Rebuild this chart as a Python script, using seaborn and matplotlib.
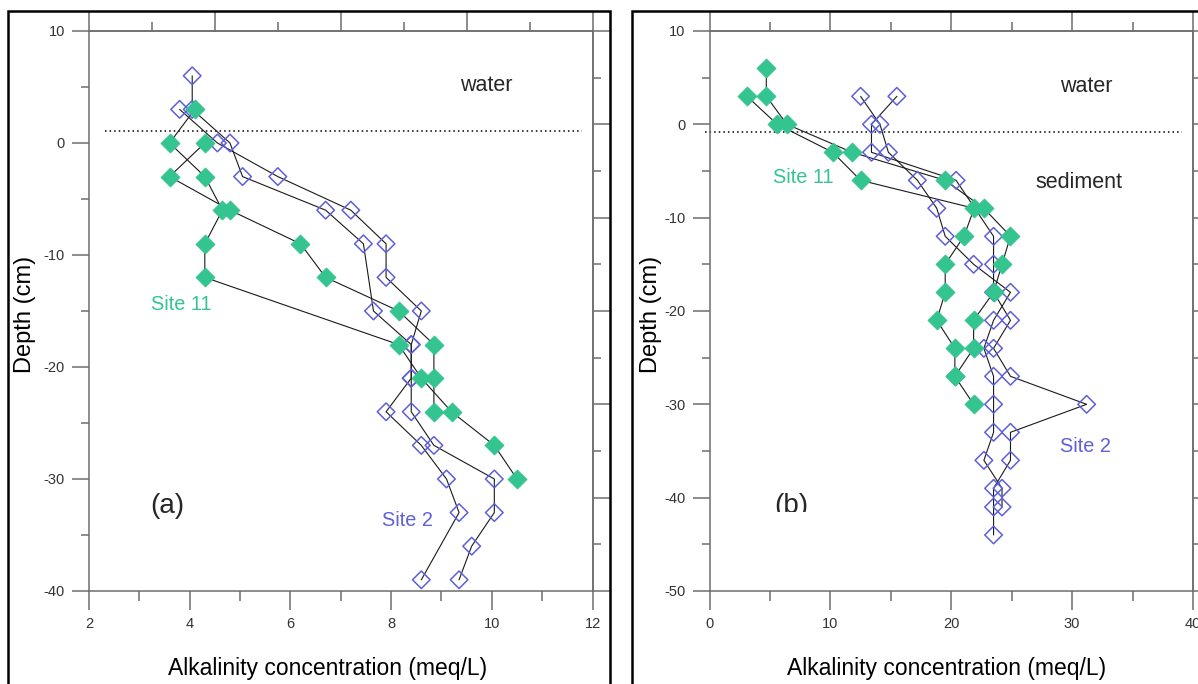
import matplotlib
matplotlib.use('Agg')
import matplotlib.pyplot as plt
import seaborn as sns
import numpy as np
from matplotlib.ticker import FixedLocator, NullFormatter
from matplotlib.patches import Rectangle
from matplotlib.transforms import Bbox

sns.set_style('ticks')
plt.rcParams['font.family'] = ['Liberation Sans', 'DejaVu Sans']
plt.rcParams['axes.unicode_minus'] = False

GREEN = '#33c48f'
BLUE = '#5f5fd8'
AXISGREY = '#6e6e6e'

# panel (a): Site 11 profiles (filled) and Site 2 profiles (open)
aSite11DepthA = [3, 0, -3, -6, -9, -12, -18, -21, -24, -27, -30]
aSite11AlkA = [4.1, 3.6, 4.3, 4.65, 4.3, 4.3, 8.15, 8.6, 9.2, 10.05, 10.5]
aSite11DepthB = [0, -3, -6, -9, -12, -15, -18, -21, -24]
aSite11AlkB = [4.3, 3.6, 4.8, 6.2, 6.7, 8.15, 8.85, 8.85, 8.85]

aSite2DepthA = [6, 3, 0, -3, -6, -9, -15, -18, -21, -24, -27, -30, -33, -39]
aSite2AlkA = [4.05, 4.05, 4.8, 5.05, 6.7, 7.45, 7.65, 8.4, 8.4, 7.9, 8.6, 9.1, 9.35, 8.6]
aSite2DepthB = [3, 0, -3, -6, -9, -12, -15, -18, -21, -24, -27, -30, -33, -36, -39]
aSite2AlkB = [3.8, 4.55, 5.75, 7.2, 7.9, 7.9, 8.6, 8.4, 8.4, 8.4, 8.85, 10.05, 10.05, 9.6, 9.35]

# panel (b)
bSite11DepthA = [6, 3, 0, -3, -6, -9, -12, -15, -18, -21, -24, -27]
bSite11AlkA = [4.7, 4.7, 6.4, 11.8, 19.5, 22.7, 24.9, 24.2, 23.5, 21.85, 21.85, 20.3]
bSite11DepthB = [3, 0, -3, -6, -9, -12, -15, -18, -21, -24, -27, -30]
bSite11AlkB = [3.1, 5.6, 10.2, 12.5, 21.9, 21.05, 19.5, 19.5, 18.8, 20.3, 20.3, 21.85]

bSite2DepthA = [3, 0, -3, -6, -12, -15, -18, -21, -24, -27, -30, -33, -36, -39, -41, -44]
bSite2AlkA = [15.5, 13.4, 13.4, 20.4, 23.5, 23.5, 23.5, 24.9, 23.5, 24.9, 31.2, 24.9, 24.9, 23.5, 23.5, 23.5]
bSite2DepthB = [3, 0, -3, -6, -9, -12, -15, -18, -21, -24, -27, -30, -33, -36, -39, -41]
bSite2AlkB = [12.5, 14.1, 14.8, 17.2, 18.8, 19.5, 21.85, 24.9, 23.5, 22.7, 23.5, 23.5, 23.5, 22.7, 24.2, 24.2]

# sediment-water interface
aInterfaceX = [2.32, 11.8]
aInterfaceY = [1.05, 1.05]
bInterfaceX = [-0.4, 39.1]
bInterfaceY = [-0.78, -0.78]


def drawProfiles(ax, greens, blues):
    """Thin black connecting lines, then open blue and filled green diamonds."""
    for depth, alk in greens + blues:
        sns.lineplot(x=alk, y=depth, sort=False, estimator=None, color='#1a1a1a',
                     lw=0.8, ax=ax, zorder=2)
    for depth, alk in blues:
        sns.scatterplot(x=alk, y=depth, marker='D', s=80, facecolor='none',
                        edgecolor=BLUE, linewidth=1.1, ax=ax, zorder=3)
    for depth, alk in greens:
        sns.scatterplot(x=alk, y=depth, marker='D', s=95, color=GREEN,
                        edgecolor=GREEN, linewidth=0.5, ax=ax, zorder=4)


def styleAxes(ax, xlim, xStep, ylim):
    ax.set_xlim(xlim)
    ax.set_ylim(ylim)
    ax.set_xticks(np.arange(xlim[0], xlim[1] + 0.01, xStep))
    ax.set_xticks(np.arange(xlim[0] + xStep / 2, xlim[1], xStep), minor=True)
    ax.set_yticks(np.arange(ylim[0], ylim[1] + 0.01, 10))
    ax.set_yticks(np.arange(ylim[0] + 5, ylim[1], 10), minor=True)
    ax.tick_params(which='both', direction='out', width=1.1, color=AXISGREY,
                   labelsize=10.5, labelcolor='#333333', pad=5)
    ax.tick_params(axis='x', which='major', length=13.7)
    ax.tick_params(axis='x', which='minor', length=7.2)
    ax.tick_params(axis='y', which='major', length=12.2)
    ax.tick_params(axis='y', which='minor', length=5.8)
    for sp in ax.spines.values():
        sp.set_visible(True)
        sp.set_color(AXISGREY)
        sp.set_linewidth(1.1)

    top = ax.secondary_xaxis('top')
    top.set_xticks(np.linspace(xlim[0], xlim[1], 5))
    top.xaxis.set_minor_locator(FixedLocator(np.linspace(xlim[0], xlim[1], 9)))
    top.xaxis.set_major_formatter(NullFormatter())
    top.tick_params(which='both', direction='out', width=1.1, color=AXISGREY)
    top.tick_params(which='major', length=14.4)
    top.tick_params(which='minor', length=6.5)
    top.spines['top'].set_color(AXISGREY)
    top.spines['top'].set_linewidth(1.1)

    right = ax.secondary_yaxis('right')
    right.set_yticks(np.linspace(ylim[0], ylim[1], 7))
    right.yaxis.set_minor_locator(FixedLocator(np.linspace(ylim[0], ylim[1], 13)))
    right.yaxis.set_major_formatter(NullFormatter())
    right.tick_params(which='both', direction='out', width=1.1, color=AXISGREY)
    right.tick_params(which='major', length=12.2)
    right.tick_params(which='minor', length=5.8)
    right.spines['right'].set_color(AXISGREY)
    right.spines['right'].set_linewidth(1.1)

    ax.set_xlabel('Alkalinity concentration (meq/L)', fontsize=16.5, color='black')
    ax.set_ylabel('Depth (cm)', fontsize=17, color='black')


fig = plt.figure(figsize=(11.98, 6.84), dpi=100)
axA = fig.add_axes([89 / 1198, 0.136, 503.5 / 1198, 0.8187])
axB = fig.add_axes([709.5 / 1198, 0.136, 483.5 / 1198, 0.8187])

# panel (a)
drawProfiles(axA,
             [(aSite11DepthA, aSite11AlkA), (aSite11DepthB, aSite11AlkB)],
             [(aSite2DepthA, aSite2AlkA), (aSite2DepthB, aSite2AlkB)])
sns.lineplot(x=aInterfaceX, y=aInterfaceY, sort=False, estimator=None, color='black',
             lw=1.1, linestyle=(0, (1, 2)), ax=axA, zorder=1)
styleAxes(axA, (2, 12), 2, (-40, 10))
axA.xaxis.set_label_coords(0.473, -0.118)
axA.yaxis.set_label_coords(-0.105, 0.494)
axA.text(9.9, 5.1, 'water', fontsize=15.5, ha='center', va='center')
axA.text(3.84, -14.4, 'Site 11', fontsize=14.3, color=GREEN, ha='center', va='center')
axA.text(8.33, -33.75, 'Site 2', fontsize=14.3, color=BLUE, ha='center', va='center')
axA.text(3.56, -32.4, '(a)', fontsize=20, ha='center', va='center')

# panel (b)
drawProfiles(axB,
             [(bSite11DepthA, bSite11AlkA), (bSite11DepthB, bSite11AlkB)],
             [(bSite2DepthA, bSite2AlkA), (bSite2DepthB, bSite2AlkB)])
sns.lineplot(x=bInterfaceX, y=bInterfaceY, sort=False, estimator=None, color='black',
             lw=1.1, linestyle=(0, (1, 2)), ax=axB, zorder=1)
styleAxes(axB, (0, 40), 10, (-50, 10))
axB.lines[-1].set_clip_on(False)
axB.xaxis.set_label_coords(0.491, -0.118)
axB.yaxis.set_label_coords(-0.098, 0.494)
axB.text(31.2, 4.1, 'water', fontsize=15.5, ha='center', va='center')
axB.text(30.6, -6.2, 'sediment', fontsize=15.5, ha='center', va='center')
axB.text(7.8, -5.75, 'Site 11', fontsize=14.3, color=GREEN, ha='center', va='center')
axB.text(31.1, -34.5, 'Site 2', fontsize=14.3, color=BLUE, ha='center', va='center')
labelB = axB.text(6.8, -40.9, '(b)', fontsize=20, ha='center', va='center')
labelB.set_clip_box(Bbox([[700, 684 - 512], [900, 684]]))
labelB.set_clip_on(True)

# outer panel frames
fig.add_artist(Rectangle((8 / 1198, -0.02), 602 / 1198, 673 / 684 + 0.02,
                         transform=fig.transFigure, fill=False, lw=1.8, ec='black'))
fig.add_artist(Rectangle((632 / 1198, -0.02), 600 / 1198, 673 / 684 + 0.02,
                         transform=fig.transFigure, fill=False, lw=1.8, ec='black',
                         clip_on=False))

fig.savefig('out.png', dpi=100)
